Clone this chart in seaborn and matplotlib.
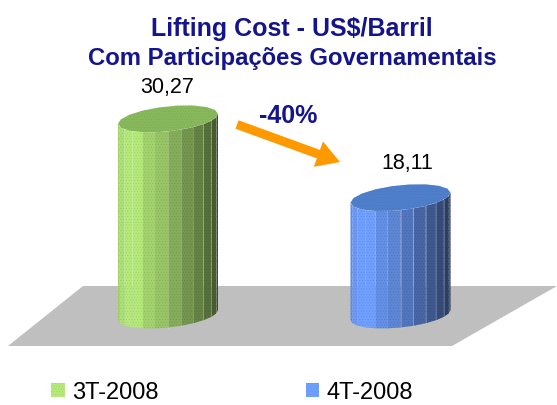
import numpy as np
import pandas as pd
import seaborn as sns
import matplotlib
matplotlib.use("Agg")
import matplotlib.pyplot as plt
from matplotlib.colors import to_rgb
from matplotlib.patches import FancyArrow, Polygon
from matplotlib.transforms import Affine2D

# Chart data
quarters = ["3T-2008", "4T-2008"]
costs = [30.27, 18.11]
cost_labels = ["30,27", "18,11"]
change_label = "-40%"
title_lines = ["Lifting Cost - US$/Barril", "Com Participações Governamentais"]

# Colours
bar_colors = ["#b5ea7a", "#6f9fff"]
top_colors = ["#88b85c", "#4f7fcb"]
facet_shade = [0.9, 0.96, 1.0, 1.0, 0.9, 0.84, 0.74, 0.64, 0.56, 0.48, 0.4, 0.33]
navy = "#14148c"

W, H = 557, 405
plt.rcParams["font.family"] = ["Liberation Sans", "DejaVu Sans"]
plt.rcParams["hatch.linewidth"] = 0.3

fig = plt.figure(figsize=(W / 100, H / 100), dpi=100)
ax = fig.add_axes([0, 0, 1, 1])

# Value axis: 0 sits at y=315 px, 6.48 px per US$. Categories 232.5 px apart
px_per_cat = 232.5
px_per_val = 6.48

df = pd.DataFrame({"trimestre": quarters, "custo": costs})
sns.barplot(data=df, x="trimestre", y="custo", hue="trimestre", hue_order=quarters,
            palette=bar_colors, width=100 / px_per_cat, saturation=1, legend=True, ax=ax)
sns.move_legend(ax, "lower left", bbox_to_anchor=(0.054, -0.049), ncols=2, frameon=False,
                title=None, fontsize=17, handlelength=0.56, handleheight=0.56,
                handletextpad=0.3, columnspacing=6.25)
for handle, color in zip(ax.get_legend().legend_handles, bar_colors):
    handle.set_hatch("......")
    handle.set_edgecolor(np.array(to_rgb(color)) * 0.88)
    handle.set_linewidth(0)

ax.set_xlim(-168 / px_per_cat, (W - 168) / px_per_cat)
ax.set_ylim(-(H - 315) / px_per_val, 315 / px_per_val)
ax.axis("off")

# Pixel coordinates for the decoration, origin at the top left
px = Affine2D().scale(1 / W, -1 / H).translate(0, 1) + fig.transFigure

# Grey floor
ax.add_patch(Polygon([(83, 286), (557, 286), (452, 346), (8, 346)], closed=True,
                     facecolor="#bfbfbf", edgecolor="none", transform=px, zorder=0))

# Turn each bar into a faceted, slightly tilted cylinder
ry, tilt = 12.5, 5
for bar, base, top in zip(ax.patches[:2], bar_colors, top_colors):
    x0, rx = bar.get_x() + bar.get_width() / 2, bar.get_width() / 2
    val = bar.get_height()
    bar.set_visible(False)
    base = np.array(to_rgb(base))

    t = np.linspace(np.pi, 0, len(facet_shade) + 1)
    xs = x0 + rx * np.cos(t)
    dy = (ry * np.sin(t) - tilt * np.cos(t)) / px_per_val
    for i, shade in enumerate(facet_shade):
        pts = [(xs[i], -dy[i]), (xs[i + 1], -dy[i + 1]), (xs[i + 1], val - dy[i + 1]), (xs[i], val - dy[i])]
        ax.add_patch(Polygon(pts, closed=True, facecolor=base * shade, edgecolor=base * shade * 0.86,
                             linewidth=0, hatch="......", zorder=2))
        if i > 5:
            ax.plot([xs[i], xs[i]], [-dy[i], val - dy[i]], color="white",
                    alpha=0.25, linewidth=0.6, zorder=3)

    # Top cap, drawn with few sides so it stays angular
    t = np.linspace(0, 2 * np.pi, 19)
    cap = np.column_stack([x0 + rx * np.cos(t), val - (ry * np.sin(t) - tilt * np.cos(t)) / px_per_val])
    ax.add_patch(Polygon(cap, closed=True, facecolor=top, edgecolor=np.array(to_rgb(top)) * 0.92,
                         linewidth=0, hatch="......", zorder=4))

# Value labels
for label, pos in zip(cost_labels, [(167, 88), (407, 163)]):
    ax.text(pos[0], pos[1], label, transform=px, ha="center", va="center", fontsize=15.5, color="black")

# Title
ax.text(292, 29, title_lines[0], transform=px, ha="center", va="center",
        fontsize=18, fontweight="bold", color=navy)
ax.text(292, 58, title_lines[1], transform=px, ha="center", va="center",
        fontsize=17.2, fontweight="bold", color=navy)

# Change arrow
ax.add_patch(FancyArrow(237, 124.5, 103, 37.5, width=9, head_width=27, head_length=23,
                        length_includes_head=True, facecolor="#ff9900", edgecolor="none",
                        transform=px, zorder=5))
ax.text(288, 116, change_label, transform=px, ha="center", va="center",
        fontsize=18, fontweight="bold", color=navy)

fig.savefig("out.png", dpi=100)
